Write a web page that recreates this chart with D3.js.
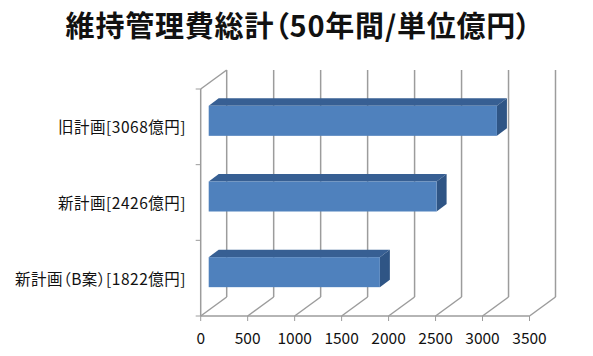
<!DOCTYPE html>
<html>
<head>
<meta charset="utf-8">
<style>
body { margin: 0; background: #fff; }
svg { display: block; }
text { font-family: "Noto Sans CJK JP", "Noto Sans", sans-serif; fill: #111; font-feature-settings: "palt"; }
</style>
</head>
<body>
<svg id="chart" width="593" height="356"></svg>
<script src="https://cdn.jsdelivr.net/npm/d3@7"></script>
<script>
const title = "維持管理費総計（50年間/単位億円）";
const categories = ["旧計画[3068億円]", "新計画[2426億円]", "新計画（B案）[1822億円]"];
const values = [3068, 2426, 1822];
const xTicks = [0, 500, 1000, 1500, 2000, 2500, 3000, 3500];

const svg = d3.select("#chart");

const x = d3.scaleLinear().domain([0, 3500]).range([200.7, 529.5]);
const y = d3.scaleBand().domain(categories).range([89, 316]);

// profondeur de la perspective
const wallDx = 26, wallDy = -19;
const barDx0 = 8, barDy0 = -6, barDx1 = 18, barDy1 = -13.5;
const barH = 30;
const gridColor = "#9c9c9c";

const grid = svg.append("g").attr("fill", "none").attr("stroke", gridColor).attr("stroke-width", 1.5);

// mur du fond
grid.selectAll(".back").data(xTicks).enter().append("line")
    .attr("x1", d => x(d) + wallDx).attr("x2", d => x(d) + wallDx)
    .attr("y1", y.range()[0] + wallDy).attr("y2", y.range()[1] + wallDy);

// sol
grid.selectAll(".floor").data(xTicks).enter().append("line")
    .attr("x1", d => x(d)).attr("x2", d => x(d) + wallDx)
    .attr("y1", y.range()[1]).attr("y2", y.range()[1] + wallDy);

// axes
grid.append("line").attr("x1", x(0)).attr("x2", x(3500)).attr("y1", y.range()[1]).attr("y2", y.range()[1]);
grid.append("line").attr("x1", x(0)).attr("x2", x(0)).attr("y1", y.range()[0]).attr("y2", y.range()[1]);
grid.append("line").attr("x1", x(0)).attr("x2", x(0) + wallDx).attr("y1", y.range()[0]).attr("y2", y.range()[0] + wallDy);

// graduations
const ticks = svg.append("g").attr("stroke", gridColor).attr("stroke-width", 1);
ticks.selectAll(".xt").data(xTicks).enter().append("line")
    .attr("x1", d => x(d)).attr("x2", d => x(d))
    .attr("y1", y.range()[1]).attr("y2", y.range()[1] + 5);
ticks.selectAll(".yt").data([...categories.map(c => y(c)), y.range()[1]]).enter().append("line")
    .attr("x1", x(0) - 5).attr("x2", x(0))
    .attr("y1", d => d).attr("y2", d => d);

// barres
const bars = svg.selectAll(".bar").data(categories.map((c, i) => ({ c, v: values[i] }))).enter()
    .append("g").attr("class", "bar");
const barTop = d => y(d.c) + y.bandwidth() / 2 - barH / 2 + barDy0;
const x0 = x(0) + barDx0;
const xe = d => x(d.v) + barDx0;
const ddx = barDx1 - barDx0, ddy = barDy1 - barDy0;

bars.append("path").attr("fill", "#375f93")
    .attr("d", d => `M${x0},${barTop(d)}L${x0 + ddx},${barTop(d) + ddy}L${xe(d) + ddx},${barTop(d) + ddy}L${xe(d)},${barTop(d)}Z`);
bars.append("path").attr("fill", "#2f5585")
    .attr("d", d => `M${xe(d)},${barTop(d)}L${xe(d) + ddx},${barTop(d) + ddy}L${xe(d) + ddx},${barTop(d) + ddy + barH}L${xe(d)},${barTop(d) + barH}Z`);
bars.append("rect").attr("fill", "#4f81bd")
    .attr("x", x0).attr("y", barTop)
    .attr("width", d => xe(d) - x0).attr("height", barH);

// textes
svg.selectAll(".xl").data(xTicks).enter().append("text")
    .attr("x", d => x(d)).attr("y", 343.5)
    .attr("text-anchor", "middle").attr("font-size", 15.5)
    .text(d => d);

svg.selectAll(".yl").data(categories).enter().append("text")
    .attr("x", 186).attr("y", d => y(d) + y.bandwidth() / 2 + 6.5)
    .attr("text-anchor", "end").attr("font-size", 15.5).attr("letter-spacing", 0.5)
    .text(d => d);

svg.append("text")
    .attr("x", 298.5).attr("y", 37)
    .attr("text-anchor", "middle").attr("font-size", 29).attr("font-weight", "bold").attr("letter-spacing", 0.8)
    .text(title);
</script>
</body>
</html>
